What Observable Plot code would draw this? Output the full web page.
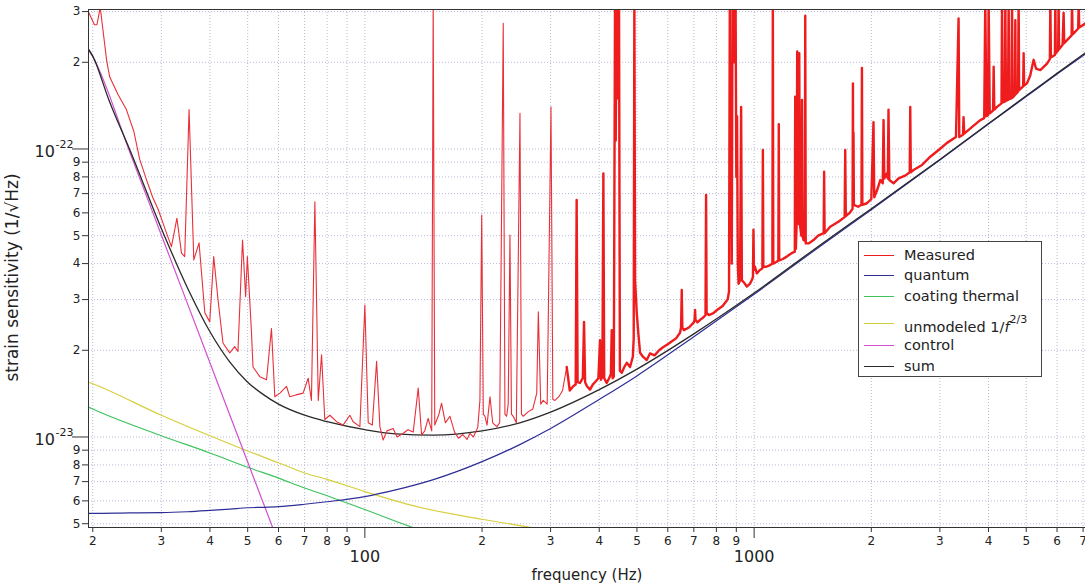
<!DOCTYPE html>
<html>
<head>
<meta charset="utf-8">
<script src="https://cdn.jsdelivr.net/npm/d3@7"></script>
<script src="https://cdn.jsdelivr.net/npm/@observablehq/plot@0.6"></script>
<style>
  html, body { margin: 0; padding: 0; background: #fff; }
  #wrap { position: relative; width: 1085px; height: 586px; font-family: "DejaVu Sans", sans-serif; color: #222; }
  #legend { position: absolute; left: 858px; top: 241px; width: 182px; height: 134px; border: 1px solid #444; background: #fff; }
  #legend .row { position: absolute; left: 0; width: 180px; height: 20px; }
  #legend .swatch { position: absolute; left: 5px; width: 30px; top: 10px; height: 0; border-top: 1px solid; }
  #legend .lab { position: absolute; left: 45px; top: 0; line-height: 20px; font-size: 14.5px; white-space: nowrap; }
  #legend sup { font-size: 11px; position: relative; top: -3px; }
</style>
</head>
<body>
<div id="wrap"></div>
<script>
// ---------- data ----------
const xGridTicks = [20,30,40,50,60,70,80,90,100,200,300,400,500,600,700,800,900,1000,2000,3000,4000,5000,6000,7000];
const xMinorTicks = [20,30,40,50,60,70,80,90,200,300,400,500,600,700,800,900,2000,3000,4000,5000,6000,7000];
const xMinorLabels = ["2","3","4","5","6","7","8","9","2","3","4","5","6","7","8","9","2","3","4","5","6","7"];
const xMajorTicks = [100, 1000];
const xMajorLabels = ["100", "1000"];

const yGridTicks = [5e-24,6e-24,7e-24,8e-24,9e-24,1e-23,2e-23,3e-23,4e-23,5e-23,6e-23,7e-23,8e-23,9e-23,1e-22,2e-22,3e-22];
const yMinorTicks = [5e-24,6e-24,7e-24,8e-24,9e-24,2e-23,3e-23,4e-23,5e-23,6e-23,7e-23,8e-23,9e-23,2e-22,3e-22];
const yMinorLabels = ["5","6","7","8","9","2","3","4","5","6","7","8","9","2","3"];
const yMajorTicks = [1e-23, 1e-22];
const yMajorExponents = ["-23", "-22"];

const xTitle = "frequency (Hz)";
const yTitle = "strain sensitivity (1/\u221AHz)";

// model curves: frequency (Hz) and strain (1/sqrt(Hz))
const quantumFreq   = [19.5, 20, 25, 30, 35, 40, 45, 50, 55, 60, 70, 80, 100, 120, 150, 200, 250, 300, 400, 500, 700, 1000, 1500, 2000, 3000, 4000, 5000, 6000, 7100];
const quantumStrain = [5.43e-24, 5.43e-24, 5.45e-24, 5.46e-24, 5.5e-24, 5.56e-24, 5.62e-24, 5.68e-24, 5.7e-24, 5.73e-24, 5.84e-24, 5.96e-24, 6.21e-24, 6.55e-24, 7.11e-24, 8.21e-24, 9.41e-24, 1.07e-23, 1.35e-23, 1.63e-23, 2.23e-23, 3.13e-23, 4.66e-23, 6.15e-23, 9.15e-23, 1.22e-22, 1.52e-22, 1.82e-22, 2.14e-22];

const sumFreq   = [19.5, 20, 22, 25, 30, 35, 40, 45, 50, 55, 60, 70, 80, 100, 120, 150, 200, 250, 300, 400, 500, 700, 1000, 1500, 2000, 3000, 4000, 5000, 6000, 7100];
const sumStrain = [2.22e-22, 2.1e-22, 1.48e-22, 9.8e-23, 5.3e-23, 3.3e-23, 2.32e-23, 1.82e-23, 1.55e-23, 1.4e-23, 1.3e-23, 1.19e-23, 1.13e-23, 1.06e-23, 1.025e-23, 1.015e-23, 1.05e-23, 1.12e-23, 1.22e-23, 1.46e-23, 1.72e-23, 2.28e-23, 3.16e-23, 4.71e-23, 6.2e-23, 9.2e-23, 1.225e-22, 1.53e-22, 1.83e-22, 2.16e-22];

const coatingFreq   = [19.5, 20, 30, 40, 50, 60, 70, 80, 90, 100, 120, 140];
const coatingStrain = [1.27e-23, 1.25e-23, 1.01e-23, 8.8e-24, 7.85e-24, 7.2e-24, 6.65e-24, 6.25e-24, 5.9e-24, 5.6e-24, 5.1e-24, 4.72e-24];

const unmodeledFreq   = [19.5, 20, 30, 40, 50, 60, 70, 80, 100, 136, 200, 253, 280];
const unmodeledStrain = [1.55e-23, 1.53e-23, 1.19e-23, 1.01e-23, 8.94e-24, 8.14e-24, 7.5e-24, 7.13e-24, 6.46e-24, 5.73e-24, 5.18e-24, 4.91e-24, 4.8e-24];

const controlFreq   = [19.5, 20, 25, 30, 35, 40, 45, 50, 55, 60];
const controlStrain = [2.21e-22, 2.09e-22, 9.6e-23, 5.03e-23, 2.91e-23, 1.81e-23, 1.19e-23, 8.19e-24, 5.84e-24, 4.29e-24];

// measured spectrum, [frequency, strain]
const measuredLow = [
  [19.5,2.99e-22],[20.2,2.7e-22],[20.5,2.7e-22],[20.9,3.1e-22],[21.7,2.04e-22],[22.1,1.78e-22],[23.2,1.55e-22],
  [24.4,1.37e-22],[25.5,1.15e-22],[26.4,9.2e-23],[27.5,7.8e-23],[28.5,6.8e-23],[29.4,6.2e-23],[30.3,5.53e-23],
  [31.1,5.0e-23],[31.85,4.58e-23],[32.9,5.75e-23],[33.8,4.35e-23],[34.45,4.23e-23],[35.35,1.37e-22],[36.35,4.12e-23],
  [37.5,4.72e-23],[38.8,2.7e-23],[39.95,2.51e-23],[40.9,4.23e-23],[41.96,2.99e-23],[43.2,2.12e-23],[44.97,1.96e-23],
  [46.3,2.06e-23],[47.2,1.98e-23],[48.5,4.83e-23],[49.4,3.07e-23],[49.9,4.23e-23],[51.1,2.35e-23],[51.6,1.75e-23],
  [53.7,1.62e-23],[55.9,1.58e-23],[57.55,2.38e-23],[58.7,1.38e-23],[60.5,1.42e-23],[62.9,1.5e-23],[64.1,1.38e-23],
  [66.5,1.4e-23],[69.4,1.42e-23],[71.5,1.6e-23],[72.9,1.34e-23],[74.4,6.56e-23],[75.9,1.34e-23],[77.4,1.93e-23],
  [78.9,1.15e-23],[81.3,1.19e-23],[84.6,1.13e-23],[87.9,1.1e-23],[91.5,1.19e-23],[93.3,1.13e-23],[97.1,1.086e-23],
  [100,2.87e-23],[102,1.12e-23],[104.5,1.1e-23],[107.2,1.83e-23],[109.3,1.086e-23],[111.4,9.76e-24],[114,1.05e-23],
  [118.2,1.07e-23],[121,1.0e-23],[125.5,1.03e-23],[129,1.06e-23],[133.1,1.04e-23],[137.1,1.48e-23],[139.9,1.016e-23],
  [142.5,1.05e-23],[145.4,1.16e-23],[148.5,1.05e-23],[149.8,3.3e-22],[151.2,1.1e-23],[155,1.2e-23],[157.4,1.31e-23],
  [161,1.12e-23],[165.4,1.18e-23],[170,1.04e-23],[174,9.9e-24],[178.6,1.02e-23],[183,9.8e-24],[186.2,1.03e-23],
  [190,1.0e-23],[195,1.08e-23],[197.5,1.34e-23],[199.6,5.9e-23],[201.5,1.2e-23],[203.5,1.18e-23],[206,1.1e-23],
  [209.6,1.38e-23],[213,1.12e-23],[218.2,1.086e-23],[222,1.12e-23],[226.7,2.73e-22],[229,1.2e-23],[231.3,1.18e-23],
  [233.5,1.3e-23],[235.9,5.03e-23],[238,1.2e-23],[240.5,1.18e-23],[245,1.12e-23],[250.3,1.33e-22],[252.5,1.2e-23],
  [255.2,1.18e-23],[262,1.22e-23],[270,1.25e-23],[276.4,1.42e-23],[279,2.72e-23],[283,1.3e-23],[287.3,1.34e-23],
  [294,1.3e-23],[300.7,1.4e-22],[304,1.35e-23],[307.9,1.34e-23],[315,1.38e-23],[322,1.45e-23],[330,1.75e-23]
];
const measuredHigh = [
  [330,1.75e-23],[336,1.45e-23],[343,1.5e-23],[348,1.52e-23],[350,6.65e-23],[352,1.55e-23],[357,1.54e-23],[363,1.6e-23],
  [365.6,2.51e-23],[368,1.55e-23],[372,1.5e-23],[378.8,1.46e-23],[385,1.52e-23],[390,1.55e-23],[398,1.6e-23],
  [401.9,2.17e-23],[404,1.58e-23],[407.5,1.62e-23],[409.9,8.23e-23],[412,1.6e-23],[418.1,1.54e-23],[424,1.6e-23],
  [428.5,1.65e-23],[430.7,2.35e-23],[433,1.6e-23],[436,1.62e-23],[439.2,3.3e-22],[441,1.07e-22],[443.6,3.3e-22],
  [447,1.5e-22],[449.7,3.3e-22],[452,1.7e-23],[457,1.67e-23],[464,1.75e-23],[470.8,1.81e-23],[480,1.75e-23],
  [488,1.9e-23],[490.5,2.2e-23],[492.4,3.3e-22],[494.5,3.5e-23],[499.4,2.7e-23],[504,2.3e-23],[509.3,1.96e-23],
  [518,1.9e-23],[529.8,1.85e-23],[540,1.95e-23],[555,1.92e-23],[570,2.0e-23],[583.4,2.05e-23],[600,2.1e-23],
  [615,2.15e-23],[630,2.2e-23],[645.2,2.3e-23],[649,2.4e-23],[651.7,3.24e-23],[654,2.4e-23],[660,2.35e-23],
  [680,2.4e-23],[700,2.5e-23],[703,2.55e-23],[705.2,2.76e-23],[707,2.55e-23],[715,2.5e-23],[726.4,2.55e-23],
  [740,2.6e-23],[750,2.65e-23],[752.6,6.92e-23],[755,2.7e-23],[765,2.65e-23],[786,2.69e-23],[800,2.75e-23],
  [830,2.85e-23],[855,3.0e-23],[862,3.2e-23],[866,3.3e-22],[868,5e-23],[872,1.4e-22],[876,4e-23],[880,3.3e-22],
  [884,3.3e-22],[888,2.0e-22],[892,3.3e-22],[896,3.3e-22],[900,8e-23],[904,1.3e-22],[908,4e-23],[912,3.4e-23],
  [920,3.5e-23],[926,1.4e-22],[930,3.5e-23],[940,3.45e-23],[957.6,3.33e-23],[975,3.4e-23],[986,3.5e-23],[993,3.6e-23],
  [996,5.24e-23],[999,3.8e-23],[1005,3.9e-23],[1016,3.7e-23],[1035,3.8e-23],[1050,3.85e-23],[1053,9.92e-23],
  [1056,3.9e-23],[1075,3.9e-23],[1099,3.95e-23],[1114,4.0e-23],[1117,3.3e-22],[1120,4.0e-23],[1140,4.05e-23],
  [1154,4.1e-23],[1157,1.22e-22],[1160,4.1e-23],[1185,4.15e-23],[1213,4.23e-23],[1250,4.35e-23],[1272,4.4e-23],
  [1275,1.52e-22],[1280,4.5e-23],[1286,5.5e-23],[1290,2.18e-22],[1294,6e-23],[1300,5.5e-23],[1306,2.15e-22],
  [1310,5.5e-23],[1322,5e-23],[1327,1.48e-22],[1331,5e-23],[1339,4.83e-23],[1349,4.8e-23],[1353,2.9e-22],
  [1357,4.7e-23],[1380,4.7e-23],[1421,4.83e-23],[1460,5e-23],[1509,5.1e-23],[1513,8.34e-23],[1517,5.1e-23],
  [1568,5.37e-23],[1650,5.6e-23],[1708,5.8e-23],[1714,9.92e-23],[1720,5.85e-23],[1760,6.0e-23],[1790,6.2e-23],
  [1794,1.69e-22],[1797,6.5e-23],[1800,1.14e-22],[1804,6.4e-23],[1850,6.3e-23],[1887,6.4e-23],[1892,1.91e-22],
  [1897,6.4e-23],[1949,6.48e-23],[2000,6.7e-23],[2026,1.24e-22],[2035,6.8e-23],[2070,7.2e-23],[2109,7.8e-23],
  [2140,7.6e-23],[2150,1.26e-22],[2160,7.9e-23],[2193,8.23e-23],[2205,7.9e-23],[2214,1.37e-22],[2225,7.8e-23],
  [2281,7.6e-23],[2350,7.9e-23],[2450,8.1e-23],[2510,8.3e-23],[2518,1.4e-22],[2526,8.3e-23],[2567,8.45e-23],
  [2700,8.8e-23],[2835,9.4e-23],[3000,1.0e-22],[3129,1.05e-22],[3300,1.1e-22],[3351,2.84e-22],[3365,1.1e-22],
  [3440,1.12e-22],[3451,1.29e-22],[3465,1.13e-22],[3650,1.2e-22],[3811,1.26e-22],[3900,1.28e-22],[3925,3.3e-22],
  [3950,1.3e-22],[3990,1.31e-22],[4003,3.3e-22],[4030,1.33e-22],[4110,1.36e-22],[4124,1.93e-22],[4140,1.37e-22],
  [4207,1.4e-22],[4320,1.44e-22],[4334,3.3e-22],[4350,1.45e-22],[4405,1.46e-22],[4419,3.3e-22],[4435,1.47e-22],
  [4490,1.48e-22],[4506,3.3e-22],[4522,1.49e-22],[4585,1.5e-22],[4598,3.3e-22],[4612,1.51e-22],[4641,1.52e-22],
  [4675,1.54e-22],[4688,2.8e-22],[4700,1.55e-22],[4765,1.58e-22],[4780,3.3e-22],[4795,1.6e-22],[4910,1.65e-22],
  [4924,2.15e-22],[4938,1.66e-22],[5023,1.69e-22],[5120,1.8e-22],[5224,2.04e-22],[5300,1.9e-22],[5435,1.88e-22],
  [5655,1.98e-22],[5750,2.05e-22],[5767,3.3e-22],[5785,2.08e-22],[5925,2.12e-22],[5940,3.3e-22],[5955,2.15e-22],
  [6040,2.2e-22],[6056,3.3e-22],[6072,2.22e-22],[6200,2.3e-22],[6238,2.97e-22],[6260,2.33e-22],[6540,2.48e-22],
  [6557,3.3e-22],[6575,2.5e-22],[6620,2.52e-22],[6800,2.62e-22],[6820,3.3e-22],[6840,2.64e-22],[7100,2.73e-22]
];

const legendLabels = ["Measured", "quantum", "coating thermal", "unmodeled 1/f^2/3", "control", "sum"];
const seriesColors = {
  measured: "#ee1c1c", quantum: "#2e2e96", coating: "#3ec35e",
  unmodeled: "#d6cf3c", control: "#d24fd2", sum: "#2a2a2a"
};

// ---------- build tables ----------
const rows = (F, V) => F.map((f, i) => ({f, v: V[i]}));
const pairs = (P) => P.map(([f, v]) => ({f, v}));
const yExpOf = new Map(yMajorTicks.map((t, i) => [t, yMajorExponents[i]]));

const gridStyle = {stroke: "#a9aed0", strokeOpacity: 0.85, strokeDasharray: "1,2", strokeWidth: 1};
const lineOpts = (color, w) => ({x: "f", y: "v", stroke: color, strokeWidth: w, clip: true});
const noText = () => "";

const chart = Plot.plot({
  width: 1085,
  height: 586,
  marginLeft: 88,
  marginRight: 0,
  marginTop: 9,
  marginBottom: 59,
  x: {type: "log", domain: [19.5, 7100]},
  y: {type: "log", domain: [4.85e-24, 3.05e-22]},
  style: {fontFamily: '"DejaVu Sans", sans-serif', color: "#222", background: "#fff", overflow: "visible"},
  marks: [
    Plot.ruleX(xGridTicks, gridStyle),
    Plot.ruleY(yGridTicks, gridStyle),
    Plot.line(rows(unmodeledFreq, unmodeledStrain), {...lineOpts(seriesColors.unmodeled, 1.2), curve: "monotone-x"}),
    Plot.line(rows(coatingFreq, coatingStrain), {...lineOpts(seriesColors.coating, 1.2), curve: "monotone-x"}),
    Plot.line(rows(controlFreq, controlStrain), {...lineOpts(seriesColors.control, 1.2), curve: "monotone-x"}),
    Plot.line(rows(quantumFreq, quantumStrain), {...lineOpts(seriesColors.quantum, 1.2), curve: "monotone-x"}),
    Plot.line(rows(sumFreq, sumStrain), {...lineOpts(seriesColors.sum, 1.3), curve: "monotone-x"}),
    Plot.line(pairs(measuredLow), lineOpts("#e8303a", 1.1)),
    Plot.line(pairs(measuredHigh), lineOpts(seriesColors.measured, 2.4)),
    Plot.frame({stroke: "#333", strokeWidth: 1}),
    // tick marks
    Plot.axisX(xMinorTicks, {tickSize: 5, tickFormat: noText, stroke: "#333", label: null}),
    Plot.axisX(xMajorTicks, {tickSize: 11, tickFormat: noText, stroke: "#333", label: null}),
    Plot.axisY(yMinorTicks, {tickSize: 6, tickFormat: noText, stroke: "#333", label: null}),
    Plot.axisY(yMajorTicks, {tickSize: 16, tickFormat: noText, stroke: "#333", label: null}),
    // tick labels
    Plot.text(xMinorTicks, {x: d => d, frameAnchor: "bottom", dy: 14, lineAnchor: "middle", textAnchor: "middle", text: (d, i) => xMinorLabels[i], fontSize: 12, fill: "#222"}),
    Plot.text(xMajorTicks, {x: d => d, frameAnchor: "bottom", dy: 29, lineAnchor: "middle", textAnchor: "middle", text: (d, i) => xMajorLabels[i], fontSize: 16, fill: "#222"}),
    Plot.text(yMinorTicks, {y: d => d, frameAnchor: "left", dx: -8, lineAnchor: "middle", textAnchor: "end", text: (d, i) => yMinorLabels[i], fontSize: 12, fill: "#222"}),
    Plot.text(yMajorTicks, {y: d => d, frameAnchor: "left", dx: -54, dy: 2.5, lineAnchor: "middle", textAnchor: "start", text: () => "10", fontSize: 16, fill: "#222"}),
    Plot.text(yMajorTicks, {y: d => d, frameAnchor: "left", dx: -33, dy: -5, lineAnchor: "middle", textAnchor: "start", text: d => yExpOf.get(d), fontSize: 11, fill: "#222"}),
    // axis titles
    Plot.text([xTitle], {frameAnchor: "bottom", dy: 48, lineAnchor: "middle", textAnchor: "middle", text: d => d, fontSize: 15, fill: "#222"}),
    Plot.text([yTitle], {frameAnchor: "left", dx: -76, dy: 9, rotate: -90, lineAnchor: "middle", textAnchor: "middle", text: d => d, fontSize: 17, fill: "#222"})
  ]
});

const wrap = document.getElementById("wrap");
wrap.appendChild(chart);

// legend (HTML overlay inside the plot area)
const legendColors = [seriesColors.measured, seriesColors.quantum, seriesColors.coating, seriesColors.unmodeled, seriesColors.control, seriesColors.sum];
const legendRowCenters = [13, 33, 54, 81, 103, 124];
const legend = document.createElement("div");
legend.id = "legend";
legendLabels.forEach((label, i) => {
  const row = document.createElement("div");
  row.className = "row";
  row.style.top = (legendRowCenters[i] - 10) + "px";
  const sw = document.createElement("span");
  sw.className = "swatch";
  sw.style.borderTopColor = legendColors[i];
  const lab = document.createElement("span");
  lab.className = "lab";
  if (label.includes("^")) {
    const [base, sup] = label.split("^");
    const [pre] = base.split("/f");
    lab.innerHTML = pre + "/<i>f</i><sup>" + sup + "</sup>";
  } else {
    lab.textContent = label;
  }
  row.appendChild(sw);
  row.appendChild(lab);
  legend.appendChild(row);
});
wrap.appendChild(legend);
</script>
</body>
</html>
